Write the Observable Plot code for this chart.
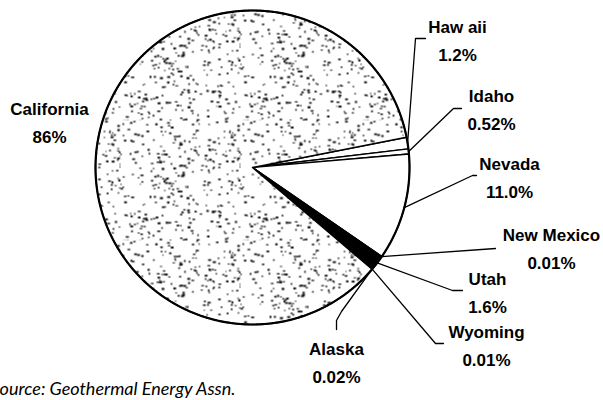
<!DOCTYPE html>
<html><head><meta charset="utf-8">
<script src="https://cdn.jsdelivr.net/npm/d3@7"></script>
<script src="https://cdn.jsdelivr.net/npm/@observablehq/plot@0.6"></script>
<style>html,body{margin:0;padding:0;background:#fff;overflow:hidden}#chart svg{display:block}</style>
</head><body><div id="chart"></div>
<script>
// ---- data ----
const states = ["Haw aii", "Idaho", "Nevada", "New Mexico", "Utah", "Wyoming", "Alaska", "California"];
const shares = [1.2, 0.52, 11.0, 0.01, 1.6, 0.01, 0.02, 86];
const shareLabels = ["1.2%", "0.52%", "11.0%", "0.01%", "1.6%", "0.01%", "0.02%", "86%"];
const sourceNote = "Source: Geothermal Energy Assn.";

// ---- layout (pixels) ----
const W = 603, H = 400, CX = 252, CY = 167, R = 157;
const startDeg = 78.9; // pie start angle (clockwise from 12 o'clock)
const fillOf = {"Utah": "black", "California": "url(#stipple)"};
const labelAt = { // centre x, baseline of last line
  "Haw aii": [457, 60], "Idaho": [491, 129], "Nevada": [509, 197], "New Mexico": [551, 268],
  "Utah": [487, 312], "Wyoming": [486, 365], "Alaska": [336, 382], "California": [49, 142]
};
const leaderBends = {
  "Haw aii": [[415, 38], [425, 38]],
  "Idaho": [[453, 108], [461, 108]],
  "Nevada": [[472, 175], [476, 175]],
  "New Mexico": [[495, 248]],
  "Utah": [[452, 290], [462, 290]],
  "Wyoming": [[435, 343], [443, 343]],
  "Alaska": [[341, 311], [336, 320], [336, 329]]
};
const toU = (px) => (px - CX) / R;
const toV = (py) => (py - CY) / R;

const a0 = startDeg * Math.PI / 180;
const arcs = d3.pie().sort(null).value((d, i) => shares[i]).startAngle(a0).endAngle(a0 + 2 * Math.PI)(states);

const pt = (a, r = 1) => ({u: r * Math.sin(a), v: -r * Math.cos(a)});

// slice polygons
const slices = arcs.map((d, i) => {
  const pts = [{...pt(0, 0)}];
  const n = Math.max(2, Math.ceil((d.endAngle - d.startAngle) / 0.005));
  for (let k = 0; k <= n; k++) pts.push(pt(d.startAngle + (d.endAngle - d.startAngle) * k / n));
  pts.push({...pt(0, 0)});
  return pts.map(p => ({...p, state: states[i]}));
});

const outline = d3.range(0, 721).map(k => pt(k / 720 * 2 * Math.PI));

// leaders
const leaders = [];
arcs.forEach((d, i) => {
  const s = states[i];
  if (!leaderBends[s]) return;
  const mid = (d.startAngle + d.endAngle) / 2;
  leaders.push({...pt(mid), state: s});
  for (const [px, py] of leaderBends[s]) leaders.push({u: toU(px), v: toV(py), state: s});
});

const labels = states.map((s, i) => ({u: toU(labelAt[s][0]), v: toV(labelAt[s][1]), text: s + "\n" + shareLabels[i]}));

const marks = [];
slices.forEach((pts, i) => {
  const s = states[i];
  marks.push(Plot.line(pts, {x: "u", y: "v", fill: fillOf[s] || "white", stroke: "black", strokeWidth: 1.4, strokeLinejoin: "round", curve: "linear"}));
});
marks.push(Plot.line(outline, {x: "u", y: "v", stroke: "black", strokeWidth: 2.2}));
marks.push(Plot.line(leaders, {x: "u", y: "v", z: "state", stroke: "black", strokeWidth: 1.3, strokeLinejoin: "round"}));
marks.push(Plot.text(labels, {x: "u", y: "v", text: "text", textAnchor: "middle", lineAnchor: "bottom", lineHeight: 1.6,
  fontSize: 17, fontWeight: "bold", fontFamily: "Liberation Sans, Arial, sans-serif", fill: "black", letterSpacing: "0.3px"}));
marks.push(Plot.text([sourceNote], {x: toU(-10), y: toV(394), text: d => d, textAnchor: "start", lineAnchor: "bottom",
  fontSize: 18, fontStyle: "italic", fontFamily: "Lato, sans-serif", fill: "black"}));

const svg = Plot.plot({
  width: W, height: H, margin: 0,
  x: {domain: [toU(0), toU(W)], axis: null},
  y: {domain: [toV(0), toV(H)], range: [0, H], axis: null},
  style: {background: "white"},
  marks
});

// stipple texture for California
const defs = d3.create("svg:defs");
const pat = defs.append("pattern").attr("id", "stipple").attr("patternUnits", "userSpaceOnUse").attr("width", 120).attr("height", 120);
pat.append("rect").attr("width", 120).attr("height", 120).attr("fill", "white");
const hash = (n) => { const s = Math.sin(n * 12.9898) * 43758.5453; return s - Math.floor(s); };
for (let i = 0; i < 340; i++) {
  pat.append("rect")
    .attr("x", (hash(i + 1) * 120).toFixed(1))
    .attr("y", (hash(i + 1001) * 120).toFixed(1))
    .attr("width", (1 + hash(i + 2001) * 2.2).toFixed(1))
    .attr("height", (0.9 + hash(i + 3001) * 1.3).toFixed(1))
    .attr("fill", "#111");
}
svg.insertBefore(defs.node(), svg.firstChild);
document.getElementById("chart").append(svg);
</script>
</body></html>
